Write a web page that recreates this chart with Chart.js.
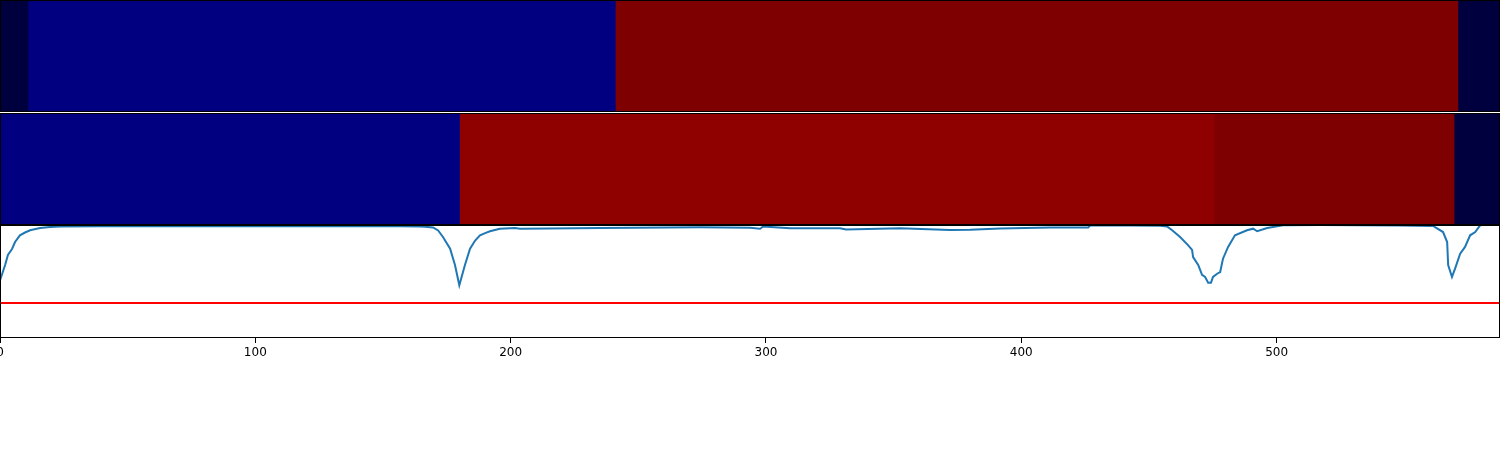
<!DOCTYPE html>
<html>
<head>
<meta charset="utf-8">
<script src="https://cdn.jsdelivr.net/npm/chart.js@4.4.1/dist/chart.umd.min.js"></script>
<style>
  html, body { margin: 0; padding: 0; background: #ffffff; }
  #wrap { position: relative; width: 1500px; height: 450px; overflow: hidden; background: #fff; }
  canvas { position: absolute; left: 0; }
</style>
</head>
<body>
<div id="wrap">
  <canvas id="c1" width="1500" height="112" style="top:0px"></canvas>
  <canvas id="c2" width="1500" height="112" style="top:113px"></canvas>
  <canvas id="c3" width="1500" height="225" style="top:225px"></canvas>
</div>
<script>
// ---- data ----
const X_MIN = 0;
const X_MAX = 587.5;
const TICK_STEP = 100;

// segment edges and class per segment (row 1 and row 2)
const row1Edges = [0, 11, 241, 571, 587.5];
const row1Class = ['navy', 'blue', 'darkred', 'navy'];
const row2Edges = [0, 180, 475.5, 569.5, 587.5];
const row2Class = ['blue', 'red', 'darkred', 'navy'];

// curve
const curveX = [0, 2.0, 3.1, 4.7, 5.9, 7.8, 9.8, 11.8, 15.7, 19.6, 23.5, 39, 78, 118, 157, 164.5, 166.5, 169.6, 171.6, 173.5, 176.3, 178.2, 179.9, 182.1, 184.1, 186.1, 188.0, 190.0, 191.9, 195.8, 201.7, 203.7, 235, 274, 293.8, 297.7, 298.9, 309.4, 329, 331.4, 352.5, 372, 380, 391.7, 411.3, 426.2, 427, 442.6, 454.4, 457.1, 459.1, 462.2, 465.3, 466.9, 467.3, 469.3, 470.8, 472.0, 473.2, 474.3, 475.1, 476.7, 477.9, 479.0, 481.0, 483.7, 488.4, 490.8, 492.4, 496.3, 502.5, 517, 548.4, 561.3, 565.2, 566.8, 567.2, 568.7, 569.9, 571.9, 573.8, 575.8, 577.8, 579.7, 587.5];
const curveY = [0.513, 0.652, 0.741, 0.795, 0.857, 0.917, 0.942, 0.962, 0.982, 0.991, 0.996, 0.998, 0.998, 0.998, 0.998, 0.996, 0.993, 0.987, 0.960, 0.902, 0.797, 0.652, 0.471, 0.652, 0.797, 0.870, 0.917, 0.937, 0.953, 0.976, 0.982, 0.976, 0.982, 0.988, 0.984, 0.976, 0.996, 0.980, 0.980, 0.969, 0.980, 0.964, 0.966, 0.978, 0.987, 0.987, 1.004, 1.004, 1.002, 0.996, 0.962, 0.902, 0.830, 0.786, 0.723, 0.652, 0.563, 0.545, 0.494, 0.494, 0.545, 0.574, 0.589, 0.708, 0.813, 0.917, 0.962, 0.976, 0.953, 0.982, 1.006, 1.010, 1.004, 1.000, 0.946, 0.857, 0.652, 0.545, 0.619, 0.753, 0.813, 0.917, 0.946, 1.006, 1.030];
const thresholdY = 0.3125;

// ---- styles ----
const palette = { navy: '#00003f', blue: '#000080', darkred: '#7f0000', red: '#8f0000' };

const framePlugin = {
  id: 'frame',
  afterDraw(chart) {
    const a = chart.chartArea, ctx = chart.ctx;
    ctx.save();
    ctx.strokeStyle = '#000';
    ctx.lineWidth = 1;
    ctx.strokeRect(Math.round(a.left) + 0.5, Math.round(a.top) + 0.5,
                   Math.round(a.right - a.left) - 1, Math.round(a.bottom - a.top) - 1);
    ctx.restore();
  }
};

function segRow(canvasId, edges, classes) {
  const datasets = classes.map((c, i) => ({
    data: [[edges[i], edges[i + 1]]],
    backgroundColor: palette[c],
    borderWidth: 0,
    grouped: false,
    barPercentage: 1,
    categoryPercentage: 1
  }));
  new Chart(document.getElementById(canvasId), {
    type: 'bar',
    data: { labels: ['row'], datasets },
    options: {
      indexAxis: 'y',
      responsive: false,
      animation: false,
      layout: { padding: 0 },
      plugins: { legend: { display: false }, tooltip: { enabled: false } },
      scales: {
        x: { type: 'linear', min: X_MIN, max: X_MAX, display: false },
        y: { display: false }
      }
    },
    plugins: [framePlugin]
  });
}

segRow('c1', row1Edges, row1Class);
segRow('c2', row2Edges, row2Class);

new Chart(document.getElementById('c3'), {
  type: 'line',
  data: {
    datasets: [
      {
        data: curveX.map((x, i) => ({ x, y: curveY[i] })),
        borderColor: '#1f77b4',
        borderWidth: 2,
        pointRadius: 0,
        tension: 0,
        fill: false
      },
      {
        data: [{ x: X_MIN, y: thresholdY }, { x: X_MAX, y: thresholdY }],
        borderColor: '#ff0000',
        borderWidth: 2,
        pointRadius: 0,
        fill: false
      }
    ]
  },
  options: {
    responsive: false,
    animation: false,
    layout: { padding: 0 },
    plugins: { legend: { display: false }, tooltip: { enabled: false } },
    scales: {
      x: {
        type: 'linear',
        min: X_MIN,
        max: X_MAX,
        afterFit(scale) {
          scale.height = 112;
          scale.paddingLeft = 0;
          scale.paddingRight = 0;
        },
        ticks: {
          stepSize: TICK_STEP,
          includeBounds: false,
          maxRotation: 0,
          autoSkip: false,
          padding: 3,
          color: '#000',
          font: { family: 'DejaVu Sans', size: 12 }
        },
        grid: {
          display: true,
          drawOnChartArea: false,
          drawTicks: true,
          tickLength: 5,
          tickColor: '#000',
          tickWidth: 1
        },
        border: { display: false }
      },
      y: { display: false, min: 0, max: 1.009 }
    }
  },
  plugins: [framePlugin]
});
</script>
</body>
</html>
